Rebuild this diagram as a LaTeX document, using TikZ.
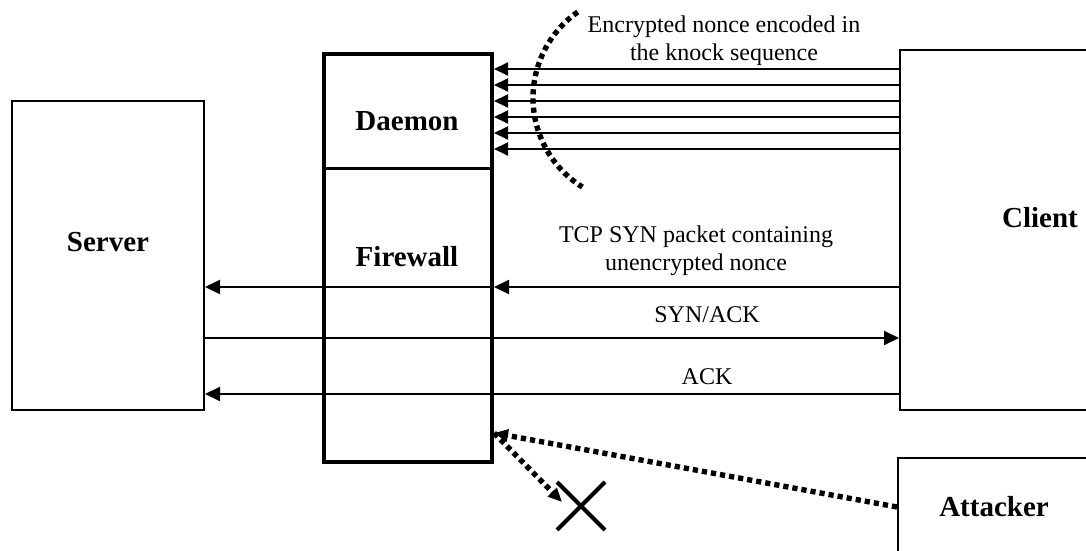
\documentclass[tikz,border=0pt]{standalone}
\usepackage{fontspec}
\setmainfont{Liberation Serif}
\usetikzlibrary{arrows.meta,calc}
\begin{document}
\begin{tikzpicture}[x=0.5pt,y=-0.5pt,
  box/.style={draw,line width=1pt,inner sep=0pt},
  wall/.style={draw,line width=2pt,inner sep=0pt},
  bold/.style={font=\fontsize{14.5}{17}\selectfont\bfseries},
  msg/.style={font=\fontsize{12}{14}\selectfont,align=center},
  arr/.style={line width=1pt,-{Triangle[length=7.5pt,width=7pt]}},
  knock/.style={line width=1pt,-{Triangle[length=7pt,width=6.5pt]}},
  dots/.style={line width=2.7pt,dash pattern=on 2.6pt off 2pt},
  darr/.style={dots,-{Triangle[length=7pt,width=6pt]}}]
\useasboundingbox (0,0) rectangle (1086,551);

% hosts
\node[box,minimum width=96pt,minimum height=154.5pt] (server) at (108,255.5) {};
\node[box,minimum width=100pt,minimum height=180pt] (client) at (1000,230) {};
\node[box,minimum width=100pt,minimum height=70pt] (attacker) at (998,528) {};
\node[wall,minimum width=84pt,minimum height=204pt] (fw) at (408,258) {};
\draw[line width=1.5pt] ($(fw.west)+(0,-90)$) coordinate (divw) -- (divw -| fw.east);

\node[bold] (serverlbl) at (108,242) {Server};
\node[bold] (clientlbl) at (1040,218) {Client};
\node[bold] (attackerlbl) at (994,507) {Attacker};
\node[bold] (daemonlbl) at (407,121) {Daemon};
\node[bold] (fwlbl) at (407,257) {Firewall};

% knock sequence
\foreach \y in {69,85,101,117,133,149}
  \draw[knock] (client.west |- 0,\y) -- (fw.east |- 0,\y);
\node[msg] (knocklbl) at (724,41) {Encrypted nonce encoded in\\the knock sequence};
\draw[dots] plot[domain=235:122,samples=60] ({638+105*cos(\x)},{98+105*sin(\x)});

% TCP handshake
\draw[arr] (client.west |- 0,287) -- (fw.east |- 0,287);
\draw[arr] (fw.east |- 0,287) -- (server.east |- 0,287);
\node[msg] (synlbl) at (696,251) {TCP SYN packet containing\\unencrypted nonce};
\draw[arr] (server.east |- 0,338) -- (client.west |- 0,338);
\node[msg] (synacklbl) at (707,315) {SYN/ACK};
\draw[arr] (client.west |- 0,394) -- (server.east |- 0,394);
\node[msg] (acklbl) at (707,377) {ACK};

% attacker is dropped at the firewall
\coordinate (hit) at (fw.east |- 0,433);
\draw[darr] (attacker.west |- 0,507) -- (hit);
\coordinate (drop) at (562,502);
\draw[darr] (hit) -- (drop);
\coordinate (xc) at (581,506);
\draw[line width=2pt] ($(xc)+(-24,-24)$) -- ($(xc)+(24,24)$);
\draw[line width=2pt] ($(xc)+(-24,24)$) -- ($(xc)+(24,-24)$);
\end{tikzpicture}
\end{document}
